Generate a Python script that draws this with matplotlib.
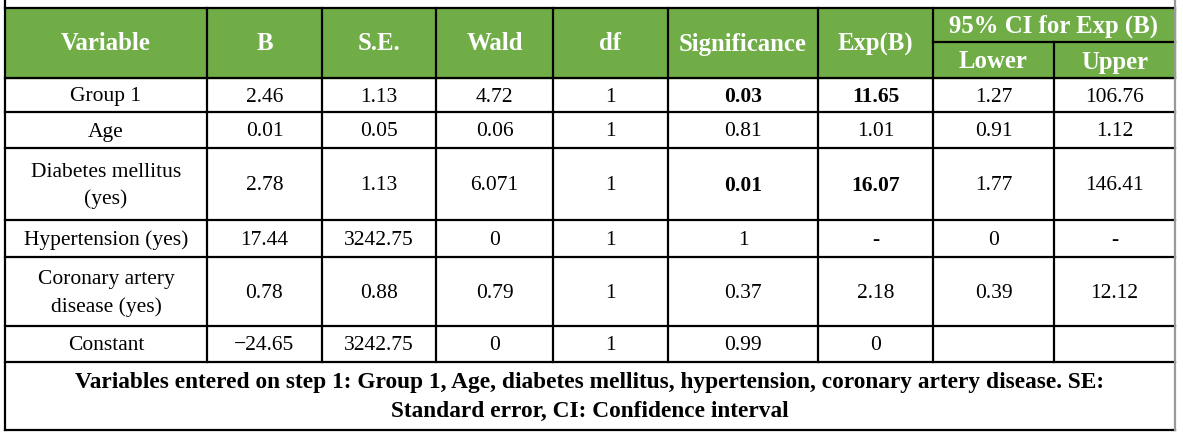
import matplotlib
matplotlib.use("Agg")
import matplotlib.pyplot as plt

headers = ["Variable", "B", "S.E.", "Wald", "df", "Significance", "Exp(B)"]
ci_header = "95% CI for Exp (B)"
ci_sub = ["Lower", "Upper"]
variables = ["Group 1", "Age", "Diabetes mellitus\n(yes)", "Hypertension (yes)",
             "Coronary artery\ndisease (yes)", "Constant"]
B = ["2.46", "0.01", "2.78", "17.44", "0.78", "\u221224.65"]
SE = ["1.13", "0.05", "1.13", "3242.75", "0.88", "3242.75"]
wald = ["4.72", "0.06", "6.071", "0", "0.79", "0"]
df = ["1", "1", "1", "1", "1", "1"]
sig = ["0.03", "0.81", "0.01", "1", "0.37", "0.99"]
expb = ["11.65", "1.01", "16.07", "-", "2.18", "0"]
lower = ["1.27", "0.91", "1.77", "0", "0.39", ""]
upper = ["106.76", "1.12", "146.41", "-", "12.12", ""]
bold_rows = [0, 2]
footer = ("Variables entered on step 1: Group 1, Age, diabetes mellitus, hypertension, coronary artery disease. SE:\n"
          "Standard error, CI: Confidence interval")

xs = [5, 207, 322, 436, 553, 668, 818, 933, 1054, 1175]
ys = [78, 112, 148, 220, 257, 326, 362]
htop, hmid = 8, 42
ybot = 430
green = "#70AD47"
fam = "Liberation Serif"

fig = plt.figure(figsize=(11.83, 4.33), dpi=100)
ax = fig.add_axes([0, 0, 1, 1])
ax.set_xlim(0, 1183); ax.set_ylim(433, 0); ax.axis("off")

ax.add_patch(plt.Rectangle((xs[0], htop), xs[-1]-xs[0], ys[0]-htop, color=green, zorder=0))
lw = 1.6
ax.plot([xs[0], xs[-1]], [htop, htop], color="black", lw=lw)
ax.plot([xs[7], xs[-1]], [hmid, hmid], color="black", lw=lw)
for y in ys:
    ax.plot([xs[0], xs[-1]], [y, y], color="black", lw=lw)
ax.plot([xs[0], xs[-1]], [ybot, ybot], color="black", lw=lw)
ax.plot([xs[0], xs[0]], [0, ybot], color="black", lw=lw)
ax.plot([xs[-1], xs[-1]], [0, ybot], color="#999999", lw=lw)
for i, x in enumerate(xs[1:-1], start=1):
    y0 = hmid if i == 8 else htop
    ax.plot([x, x], [y0, ys[-1]], color="black", lw=lw)

fs = 15.5
hfs = 17.8
ffs = 16.8
for i, h in enumerate(headers):
    ax.text((xs[i]+xs[i+1])/2, (htop+ys[0])/2 + 1, h, ha="center", va="center",
            color="white", fontweight="bold", fontsize=hfs, family=fam)
ax.text((xs[7]+xs[9])/2, (htop+hmid)/2 + 1, ci_header, ha="center", va="center",
        color="white", fontweight="bold", fontsize=hfs, family=fam)
for j, s in enumerate(ci_sub):
    ax.text((xs[7+j]+xs[8+j])/2, (hmid+ys[0])/2 + 2, s, ha="center", va="center",
            color="white", fontweight="bold", fontsize=hfs, family=fam)

cols = [variables, B, SE, wald, df, sig, expb, lower, upper]
for r in range(len(variables)):
    yc = (ys[r]+ys[r+1])/2 + 2
    for c, col in enumerate(cols):
        bold = (r in bold_rows) and c in (5, 6)
        ax.text((xs[c]+xs[c+1])/2, yc, col[r], ha="center", va="center",
                fontsize=fs, family=fam, fontweight="bold" if bold else "normal",
                linespacing=1.55)

ax.text((xs[0]+xs[-1])/2, (ys[-1]+ybot)/2 + 1, footer, ha="center", va="center",
        fontsize=ffs, family=fam, fontweight="bold", linespacing=1.5)

fig.savefig("out.png", dpi=100)
